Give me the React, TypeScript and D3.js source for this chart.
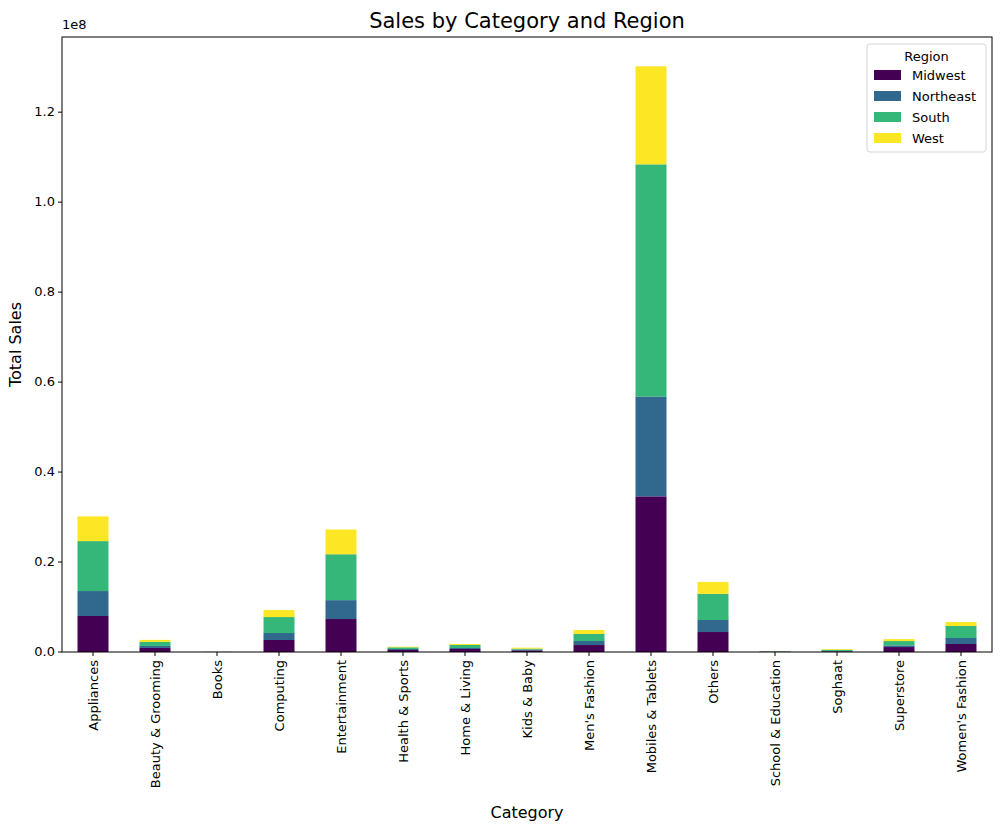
import React from "react"
import * as d3 from "d3"

const categories = ["Appliances", "Beauty & Grooming", "Books", "Computing", "Entertainment", "Health & Sports", "Home & Living", "Kids & Baby", "Men's Fashion", "Mobiles & Tablets", "Others", "School & Education", "Soghaat", "Superstore", "Women's Fashion"]
const regions = ["Midwest", "Northeast", "South", "West"]
const colors = ["#440154", "#31688e", "#35b779", "#fde725"]
// values in millions
const midwest = [8.0, 0.9, 0.01, 2.67, 7.33, 0.45, 0.67, 0.37, 1.55, 34.6, 4.44, 0.05, 0.15, 1.1, 1.78]
const northeast = [5.55, 0.45, 0.01, 1.55, 4.2, 0.22, 0.22, 0.15, 0.9, 22.2, 2.67, 0.03, 0.05, 0.37, 1.33]
const south = [11.1, 0.9, 0.01, 3.55, 10.2, 0.37, 0.67, 0.22, 1.55, 51.6, 5.8, 0.1, 0.3, 0.96, 2.67]
const west = [5.5, 0.45, 0.01, 1.55, 5.5, 0.15, 0.22, 0.22, 0.9, 21.8, 2.67, 0.02, 0.15, 0.44, 0.9]
const yTicks = [0, 0.2, 0.4, 0.6, 0.8, 1.0, 1.2]

export default function App() {
  const W = 1002, H = 829
  const left = 62, right = 992, top = 37, bottom = 652
  const font = "DejaVu Sans, sans-serif"

  const table = categories.map((c, i) => ({ cat: c, Midwest: midwest[i], Northeast: northeast[i], South: south[i], West: west[i] }))
  const series = d3.stack<any>().keys(regions)(table)
  const maxTotal = d3.max(table, (d) => d.Midwest + d.Northeast + d.South + d.West) as number

  const x = d3.scaleBand().domain(categories).range([left, right]).paddingInner(0.5).paddingOuter(0.25)
  const y = d3.scaleLinear().domain([0, maxTotal * 1.05]).range([bottom, top])

  return (
    <svg width={W} height={H} style={{ position: "absolute", left: 0, top: 0 }} fontFamily={font}>
      <rect width={W} height={H} fill="#fff" />
      <text x={(left + right) / 2} y={28} textAnchor="middle" fontSize={21}>Sales by Category and Region</text>
      {series.map((s, si) => (
        <g key={s.key} fill={colors[si]}>
          {s.map((d, i) => (
            <rect key={i} x={x(categories[i])} width={x.bandwidth()} y={y(d[1])} height={Math.max(0, y(d[0]) - y(d[1]))} />
          ))}
        </g>
      ))}
      <rect x={left} y={top} width={right - left} height={bottom - top} fill="none" stroke="#000" strokeWidth={1} />
      {yTicks.map((t) => (
        <g key={t} transform={`translate(${left},${y(t * 1e2)})`}>
          <line x1={-4} x2={0} stroke="#000" />
          <text x={-7} dy="0.32em" textAnchor="end" fontSize={13}>{t.toFixed(1)}</text>
        </g>
      ))}
      <text x={left} y={top - 8} fontSize={13}>1e8</text>
      {categories.map((c) => {
        const cx = (x(c) as number) + x.bandwidth() / 2
        return (
          <g key={c} transform={`translate(${cx},${bottom})`}>
            <line y2={4} stroke="#000" />
            <text transform="translate(0,8) rotate(-90)" textAnchor="end" dy="0.35em" fontSize={13}>{c}</text>
          </g>
        )
      })}
      <text x={(left + right) / 2} y={818} textAnchor="middle" fontSize={16}>Category</text>
      <text transform={`translate(21,${(top + bottom) / 2}) rotate(-90)`} textAnchor="middle" fontSize={16}>Total Sales</text>
      <g transform="translate(867,44)">
        <rect width={119} height={108} rx={3} fill="#fff" stroke="#ccc" opacity={0.8} />
        <text x={59.5} y={17} textAnchor="middle" fontSize={13}>Region</text>
        {regions.map((r, i) => (
          <g key={r} transform={`translate(7,${26 + i * 21})`}>
            <rect width={27} height={10} fill={colors[i]} />
            <text x={38} y={5} dy="0.35em" fontSize={13}>{r}</text>
          </g>
        ))}
      </g>
    </svg>
  )
}
